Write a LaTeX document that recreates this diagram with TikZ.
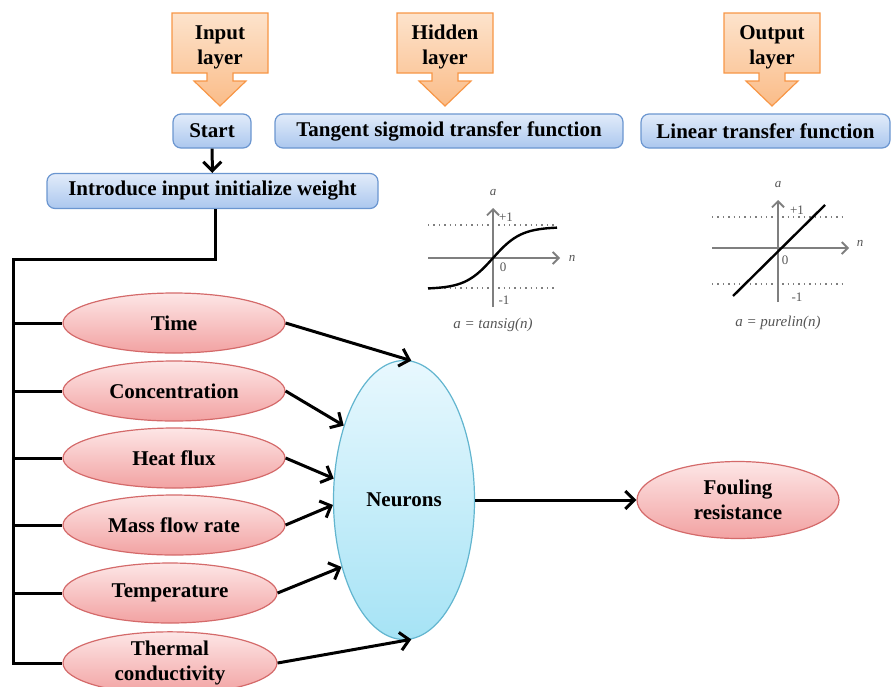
\documentclass[tikz,border=0pt]{standalone}
\usepackage{fontspec}
\setmainfont{Liberation Serif}
\usetikzlibrary{arrows.meta,positioning,calc,shapes.geometric}
\definecolor{orangeline}{HTML}{F79646}
\definecolor{orangetop}{HTML}{FDE3CC}
\definecolor{orangebot}{HTML}{FABC88}
\definecolor{blueline}{HTML}{6B96D0}
\definecolor{bluetop}{HTML}{E2ECFA}
\definecolor{bluebot}{HTML}{ABC7EE}
\definecolor{pinkline}{HTML}{D46A6A}
\definecolor{pinktop}{HTML}{FDE6E6}
\definecolor{pinkbot}{HTML}{F2A2A2}
\definecolor{cyanline}{HTML}{62B5CF}
\definecolor{cyantop}{HTML}{E8F8FE}
\definecolor{cyanbot}{HTML}{A6E3F5}
\definecolor{plotgray}{HTML}{7F7F7F}
\definecolor{labelgray}{HTML}{555555}

\begin{document}
\begin{tikzpicture}[x=0.5pt, y=-0.5pt,
    bigfont/.style={font=\fontsize{10.5}{12.5}\selectfont\bfseries},
    layerarrow/.style={draw=orangeline, top color=orangetop, bottom color=orangebot, line width=0.6pt},
    bluebox/.style={bigfont, draw=blueline, rounded corners=4pt, top color=bluetop, bottom color=bluebot, inner sep=0pt, minimum height=17pt, line width=0.6pt},
    pinkball/.style={bigfont, ellipse, draw=pinkline, top color=pinktop, bottom color=pinkbot, inner sep=0pt, minimum width=111pt, minimum height=30pt, align=center, line width=0.6pt},
    wire/.style={line width=1.5pt, line join=miter},
    flow/.style={wire, -{Straight Barb[length=4.5pt,width=9pt,line width=1.5pt]}},
    axisline/.style={plotgray, line width=0.9pt},
    axisarrow/.style={axisline, -{Straight Barb[length=3pt,width=6pt]}},
    limit/.style={plotgray, dotted, line width=0.7pt},
    plotlabel/.style={labelgray, font=\fontsize{6.5}{7}\selectfont\itshape, inner sep=1pt},
    tick/.style={labelgray, font=\fontsize{6.5}{7}\selectfont, inner sep=1pt},
  ]
  \useasboundingbox (0,0) rectangle (892,686);
  \clip (0,0) rectangle (892,686);

  % layer callouts
  \foreach \cx/\nm/\txt in {220/inlayer/Input, 445/hidlayer/Hidden, 772/outlayer/Output}{
    \path[layerarrow] ({\cx-48},13) -- ({\cx+48},13) -- ({\cx+48},73) -- ({\cx+13},73) -- ({\cx+13},81)
      -- ({\cx+26},81) -- (\cx,106) -- ({\cx-26},81) -- ({\cx-13},81) -- ({\cx-13},73) -- ({\cx-48},73) -- cycle;
    \node[bigfont, align=center] (\nm) at (\cx,47) {\txt\\layer};
  }

  % top boxes
  \node[bluebox, minimum width=39pt] (start) at (212,131) {Start};
  \node[bluebox, minimum width=174pt] (tansig) at (449,131) {Tangent sigmoid transfer function};
  \node[bluebox, minimum width=124.5pt] (purelin) at (765.5,131) {Linear transfer function};
  \node[bluebox, minimum width=165.5pt, minimum height=17.5pt] (intro) at (212.5,191) {Introduce input initialize weight};
  \draw[flow] (start) -- (intro);

  % input variables
  \node[pinkball] (time) at (174,323) {Time};
  \node[pinkball] (conc) at (174,391) {Concentration};
  \node[pinkball] (heat) at (174,458) {Heat flux};
  \node[pinkball] (mass) at (174,525) {Mass flow rate};
  \node[pinkball, minimum width=107pt] (temp) at (170,593) {Temperature};
  \node[pinkball, minimum width=107pt] (therm) at (170,663) {Thermal\\conductivity};

  \node[bigfont, ellipse, draw=cyanline, top color=cyantop, bottom color=cyanbot, inner sep=0pt,
    minimum width=70.5pt, minimum height=139.5pt, line width=0.6pt] (neurons) at (404,500) {Neurons};
  \node[pinkball, minimum width=101pt, minimum height=38.5pt] (fouling) at (738,500) {Fouling\\resistance};

  % feed lines
  \coordinate (trunk) at (13,259);
  \draw[wire] ($(intro.south)+(2.5,0)$) |- (trunk) -- (trunk |- therm.west) -- (therm.west);
  \foreach \v in {time, conc, heat, mass, temp}
    \draw[wire] (trunk |- \v.west) -- (\v.west);

  \draw[flow] (time.east) -- (neurons.87);
  \draw[flow] (conc.east) -- (neurons.129);
  \draw[flow] (heat.east) -- (neurons.163);
  \draw[flow] (mass.east) -- (neurons.184);
  \draw[flow] (temp.east) -- (neurons.227);
  \draw[flow] (therm.east) -- (neurons.273);
  \draw[flow] (neurons.east) -- (fouling.west);

  % tansig plot
  \begin{scope}[shift={(493,258)}]
    \draw[limit] (-65,-33) -- (64,-33);
    \draw[limit] (-65,30) -- (64,30);
    \draw[axisarrow] (-65,0) -- (67,0);
    \draw[axisarrow] (0,49) -- (0,-50);
    \draw[line width=1.2pt, domain=-65:64, samples=40] plot (\x,{-31*tanh(\x/28)});
    \node[plotlabel] (tsa) at (0,-65) {a};
    \node[plotlabel] (tsn) at (79,0) {n};
    \node[tick] (tsp) at (13,-41) {+1};
    \node[tick] (tsz) at (10,9) {0};
    \node[tick] (tsm) at (11,42) {-1};
    \node[plotlabel, font=\fontsize{7.5}{8}\selectfont\itshape] (tscap) at (0,67) {a = tansig(n)};
  \end{scope}

  % purelin plot
  \begin{scope}[shift={(778,248)}]
    \draw[limit] (-66,-31) -- (67,-31);
    \draw[limit] (-66,36) -- (67,36);
    \draw[axisarrow] (-66,0) -- (71,0);
    \draw[axisarrow] (0,54) -- (0,-48);
    \draw[line width=1.2pt] (-45,48) -- (47,-43);
    \node[plotlabel] (pla) at (0,-63) {a};
    \node[plotlabel] (pln) at (82,-5) {n};
    \node[tick] (plp) at (19,-38) {+1};
    \node[tick] (plz) at (7,12) {0};
    \node[tick] (plm) at (19,49) {-1};
    \node[plotlabel, font=\fontsize{7.5}{8}\selectfont\itshape] (plcap) at (0,75) {a = purelin(n)};
  \end{scope}
\end{tikzpicture}
\end{document}
